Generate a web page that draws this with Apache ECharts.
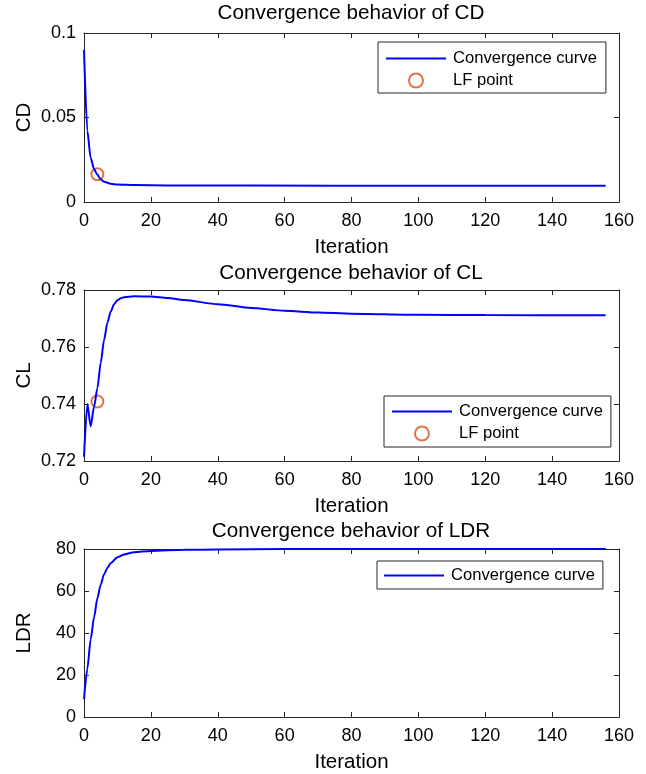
<!DOCTYPE html>
<html>
<head>
<meta charset="utf-8">
<script src="https://cdn.jsdelivr.net/npm/echarts@6/dist/echarts.min.js"></script>
<style>
  html, body { margin: 0; padding: 0; background: #fff; }
  #chart { width: 646px; height: 774px; }
</style>
</head>
<body>
<div id="chart"></div>
<script>
// values
var iterCD = [0, 1, 2, 3, 4, 5, 6, 8, 10, 15, 25, 50, 100, 156];
var valCD = [0.090, 0.042, 0.026, 0.0195, 0.0162, 0.0135, 0.0120, 0.0108, 0.0103, 0.0100, 0.0098, 0.0097, 0.0096, 0.0096];
var lfCD = [4, 0.0164];

var iterCL = [0, 1, 2, 3, 4, 5, 6, 7, 8, 9, 10, 11, 12, 15, 20, 25, 30, 40, 50, 60, 70, 80, 100, 120, 156];
var valCL = [0.7215, 0.7400, 0.7322, 0.7390, 0.7455, 0.7545, 0.7625, 0.7685, 0.7725, 0.7750, 0.7764, 0.7771, 0.7775, 0.7778, 0.7777, 0.7772, 0.7765, 0.7750, 0.7737, 0.7727, 0.7721, 0.7717, 0.7713, 0.7712, 0.7711];
var lfCL = [4, 0.7409];

var iterLDR = [0, 1, 2, 3, 4, 5, 6, 7, 8, 10, 12, 15, 20, 30, 40, 60, 100, 156];
var valLDR = [8.5, 23, 37, 47.5, 56.5, 63, 68, 71, 73.3, 76.1, 77.4, 78.5, 79.1, 79.6, 79.8, 79.95, 80, 80];

var titles = ['Convergence behavior of CD', 'Convergence behavior of CL', 'Convergence behavior of LDR'];
var yNames = ['CD', 'CL', 'LDR'];
var yRanges = [[0, 0.1, 0.05], [0.72, 0.78, 0.02], [0, 80, 20]];
var xTicks = [0, 160, 20];

var FONT = "'Liberation Sans', Arial, sans-serif";
var AXIS_COLOR = '#262626';
var LINE_ICON = 'path://M0,0 L60,0 L60,2 L0,2 Z';
var CURVE = 'Convergence curve';
var LF = 'LF point';

function pairs(xs, ys) {
	return xs.map(function (x, i) { return [x, ys[i]]; });
}

var grids = [
	{left: 84, width: 535, top: 33, height: 169},
	{left: 84, width: 535, top: 290, height: 171},
	{left: 84, width: 535, top: 549, height: 171}
];

var xAxes = [];
var yAxes = [];
grids.forEach(function (g, i) {
	var lineStyle = {color: AXIS_COLOR, width: 1};
	var tick = {show: true, inside: true, length: 5, lineStyle: lineStyle};
	xAxes.push({
		type: 'value', gridIndex: i, position: 'bottom',
		min: xTicks[0], max: xTicks[1], interval: xTicks[2],
		name: 'Iteration', nameLocation: 'middle', nameGap: 35, nameMoveOverlap: false,
		nameTextStyle: {fontFamily: FONT, fontSize: 20.5, color: '#000'},
		axisLine: {show: true, onZero: false, lineStyle: lineStyle},
		axisTick: tick,
		axisLabel: {fontFamily: FONT, fontSize: 18, color: '#000', margin: 10},
		splitLine: {show: false}
	});
	xAxes.push({
		type: 'value', gridIndex: i, position: 'top',
		min: xTicks[0], max: xTicks[1], interval: xTicks[2],
		axisLine: {show: true, onZero: false, lineStyle: lineStyle},
		axisTick: tick,
		axisLabel: {show: false},
		splitLine: {show: false}
	});
	yAxes.push({
		type: 'value', gridIndex: i, position: 'left',
		min: yRanges[i][0], max: yRanges[i][1], interval: yRanges[i][2],
		name: yNames[i], nameLocation: 'middle', nameGap: 49, nameMoveOverlap: false,
		nameTextStyle: {fontFamily: FONT, fontSize: 20.5, color: '#000'},
		axisLine: {show: true, onZero: false, lineStyle: lineStyle},
		axisTick: tick,
		axisLabel: {fontFamily: FONT, fontSize: 18, color: '#000', margin: 8},
		splitLine: {show: false}
	});
	yAxes.push({
		type: 'value', gridIndex: i, position: 'right',
		min: yRanges[i][0], max: yRanges[i][1], interval: yRanges[i][2],
		axisLine: {show: true, onZero: false, lineStyle: lineStyle},
		axisTick: tick,
		axisLabel: {show: false},
		splitLine: {show: false}
	});
});

function curve(i, data) {
	return {
		type: 'line', name: CURVE, xAxisIndex: i * 2, yAxisIndex: i * 2,
		data: data, symbol: 'none', smooth: 0.25, smoothMonotone: 'x',
		clip: false, silent: true,
		lineStyle: {color: '#0000FF', width: 2},
		itemStyle: {color: '#0000FF'}
	};
}

function lfPoint(i, pt) {
	return {
		type: 'scatter', name: LF, xAxisIndex: i * 2, yAxisIndex: i * 2,
		data: [pt], symbol: 'circle', symbolSize: 12, silent: true,
		itemStyle: {color: '#fff', borderColor: '#D95319', borderWidth: 2}
	};
}

var legendBase = {
	orient: 'vertical', itemWidth: 60, itemHeight: 14, itemGap: 5,
	selectedMode: false, backgroundColor: '#fff',
	borderColor: AXIS_COLOR, borderWidth: 1, borderRadius: 0,
	textStyle: {fontFamily: FONT, fontSize: 16.6, color: '#000', padding: [0, 0, 0, 2]}
};

var option = {
	animation: false,
	backgroundColor: '#fff',
	title: titles.map(function (t, i) {
		return {
			text: t, left: 351, textAlign: 'center',
			top: [3, 263, 521][i], padding: 0,
			textStyle: {fontFamily: FONT, fontSize: 20.7, fontWeight: 'normal', color: '#000'}
		};
	}),
	grid: grids,
	xAxis: xAxes,
	yAxis: yAxes,
	legend: [
		Object.assign({}, legendBase, {
			id: 'l1', left: 378, top: 42, padding: [8, 9, 4, 8],
			data: [{name: CURVE, icon: LINE_ICON}, LF]
		}),
		Object.assign({}, legendBase, {
			id: 'l2', left: 384, top: 396, padding: [7, 8, 5, 8],
			data: [{name: CURVE, icon: LINE_ICON}, LF]
		}),
		Object.assign({}, legendBase, {
			id: 'l3', left: 377, top: 561, padding: [6, 8, 5, 7],
			data: [{name: CURVE, icon: LINE_ICON}]
		})
	],
	series: [
		curve(0, pairs(iterCD, valCD)),
		lfPoint(0, lfCD),
		curve(1, pairs(iterCL, valCL)),
		lfPoint(1, lfCL),
		curve(2, pairs(iterLDR, valLDR))
	]
};

var chart = echarts.init(document.getElementById('chart'), null, {renderer: 'canvas'});
chart.setOption(option);
</script>
</body>
</html>
